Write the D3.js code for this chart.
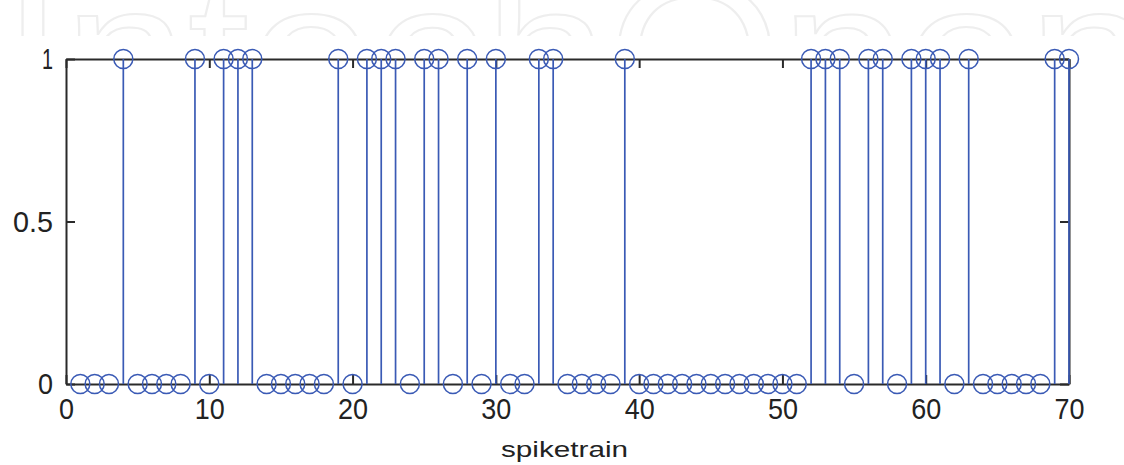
<!DOCTYPE html>
<html>
<head>
<meta charset="utf-8">
<script src="https://cdn.jsdelivr.net/npm/d3@7"></script>
<style>
  html, body { margin: 0; padding: 0; background: #fff; }
  svg { display: block; }
</style>
</head>
<body>
<svg id="chart" width="1124" height="465"></svg>
<script>
// ---- data ----
const indices = d3.range(1, 71);
const spikes = [
  0,0,0,1,0,0,0,0,1,0,
  1,1,1,0,0,0,0,0,1,0,
  1,1,1,0,1,1,0,1,0,1,
  0,0,1,1,0,0,0,0,1,0,
  0,0,0,0,0,0,0,0,0,0,
  0,1,1,1,0,1,1,0,1,1,
  1,0,1,0,0,0,0,0,1,1
];
const xTicks = [0, 10, 20, 30, 40, 50, 60, 70];
const yTicks = [0, 0.5, 1];
const xLabel = "spiketrain";
const watermark = "IntechOpen";

// ---- layout ----
const svg = d3.select("#chart");
const mLeft = 66, mRight = 1069, mTop = 59, mBottom = 384;
const x = d3.scaleLinear().domain([0, 70]).range([mLeft, mRight]);
const y = d3.scaleLinear().domain([0, 1]).range([mBottom, mTop]);
const axisColor = "#2a2a2a";
const blue = "#3a5ab5";
const font = "'Liberation Sans', Arial, sans-serif";

// watermark (faint, cut off at the top as in the source)
svg.append("clipPath").attr("id", "wm").append("rect")
  .attr("x", 0).attr("y", 0).attr("width", 1124).attr("height", 36);
svg.append("text")
  .attr("clip-path", "url(#wm)")
  .attr("x", 2).attr("y", 122)
  .attr("font-family", font)
  .attr("font-size", 200)
  .attr("textLength", 1150)
  .attr("lengthAdjust", "spacingAndGlyphs")
  .attr("fill", "none")
  .attr("stroke", "#eeeeee")
  .attr("stroke-width", 2)
  .text(watermark);

function styleAxis(g) {
  g.selectAll(".domain").attr("stroke", axisColor).attr("stroke-width", 2);
  g.selectAll(".tick line").attr("stroke", axisColor).attr("stroke-width", 2);
  g.selectAll("text").attr("fill", "#222").attr("font-family", font).attr("font-size", 30);
}

// bottom axis
const gx = svg.append("g").attr("transform", `translate(0,${mBottom})`)
  .call(d3.axisBottom(x).tickValues(xTicks).tickFormat(d3.format("d"))
    .tickSizeInner(-9).tickSizeOuter(0).tickPadding(14));
styleAxis(gx);
gx.selectAll(".tick text").each(function(d) {
  const n = String(d).length;
  d3.select(this).attr("textLength", n * 15).attr("lengthAdjust", "spacingAndGlyphs");
});

// top axis (no labels)
const gt = svg.append("g").attr("transform", `translate(0,${mTop})`)
  .call(d3.axisTop(x).tickValues(xTicks).tickFormat("")
    .tickSizeInner(-9).tickSizeOuter(0));
styleAxis(gt);

// left axis
const gy = svg.append("g").attr("transform", `translate(${mLeft},0)`)
  .call(d3.axisLeft(y).tickValues(yTicks).tickFormat(d => String(d))
    .tickSizeInner(-9).tickSizeOuter(0).tickPadding(13));
styleAxis(gy);
gy.selectAll(".tick text").each(function(d) {
  const s = String(d);
  const w = s === "0.5" ? 40 : (s === "1" ? 11 : 15);
  d3.select(this).attr("textLength", w).attr("lengthAdjust", "spacingAndGlyphs");
});

// right axis (no labels)
const gr = svg.append("g").attr("transform", `translate(${mRight},0)`)
  .call(d3.axisRight(y).tickValues(yTicks).tickFormat("")
    .tickSizeInner(-9).tickSizeOuter(0));
styleAxis(gr);

// x label
svg.append("text")
  .attr("x", (mLeft + mRight) / 2 - 3).attr("y", 457)
  .attr("text-anchor", "middle")
  .attr("font-family", font)
  .attr("font-size", 22)
  .attr("fill", "#222")
  .attr("textLength", 127)
  .attr("lengthAdjust", "spacingAndGlyphs")
  .text(xLabel);

// stems
const data = indices.map((d, i) => ({ i: d, v: spikes[i] }));
svg.append("g").selectAll("line").data(data).join("line")
  .attr("x1", d => x(d.i)).attr("x2", d => x(d.i))
  .attr("y1", y(0)).attr("y2", d => y(d.v))
  .attr("stroke", blue).attr("stroke-width", 1.7);

svg.append("g").selectAll("circle").data(data).join("circle")
  .attr("cx", d => x(d.i)).attr("cy", d => y(d.v))
  .attr("r", 9.5)
  .attr("fill", "none")
  .attr("stroke", blue)
  .attr("stroke-width", 1.5);
</script>
</body>
</html>
